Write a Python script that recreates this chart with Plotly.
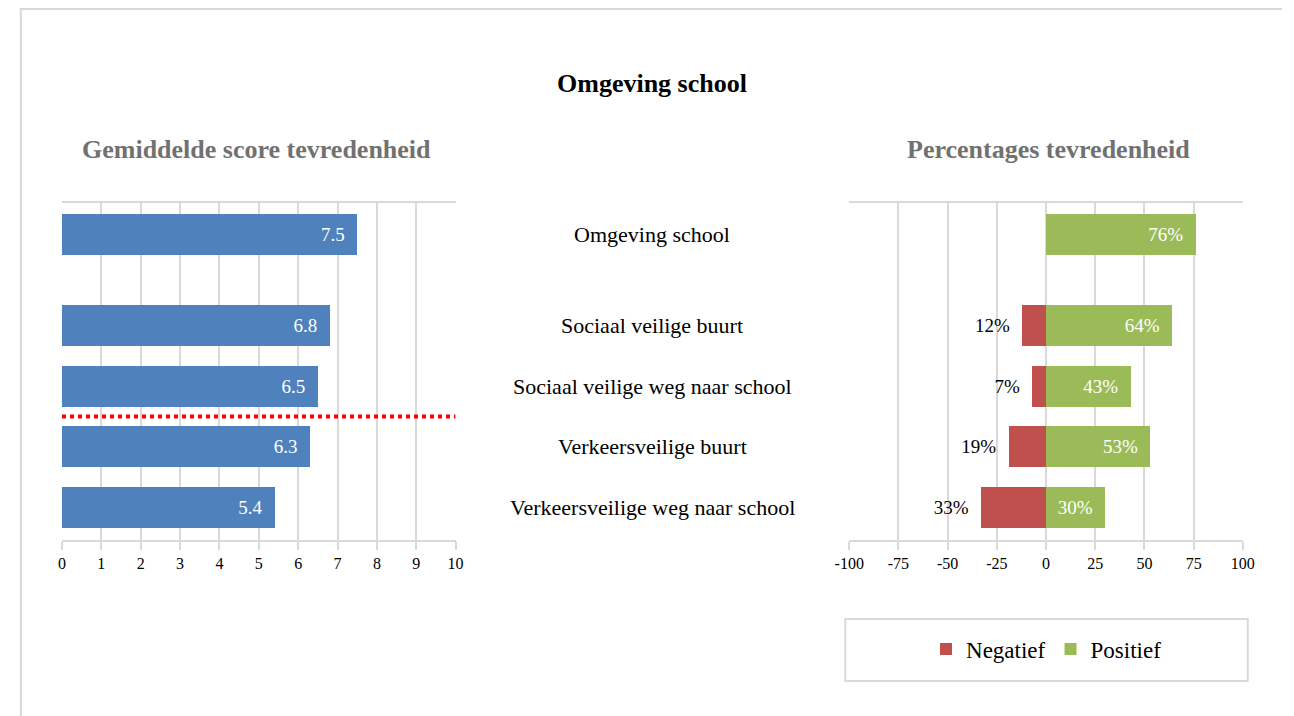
import plotly.graph_objects as go

# ---------------- data ----------------
categories = [
    "Omgeving school",
    "Sociaal veilige buurt",
    "Sociaal veilige weg naar school",
    "Verkeersveilige buurt",
    "Verkeersveilige weg naar school",
]
scores = [7.5, 6.8, 6.5, 6.3, 5.4]
negatief = [None, 12, 7, 19, 33]
positief = [76, 64, 43, 53, 30]
left_ticks = [0, 1, 2, 3, 4, 5, 6, 7, 8, 9, 10]
right_ticks = [-100, -75, -50, -25, 0, 25, 50, 75, 100]
right_tick_labels = ["-100", "-75", "-50", "-25", "0", "25", "50", "75", "100"]
title_text = "Omgeving school"
left_title = "Gemiddelde score tevredenheid"
right_title = "Percentages tevredenheid"
legend_names = ["Negatief", "Positief"]

# ---------------- layout / style ----------------
W, H = 1294, 716
FONT = "Liberation Serif"
BLUE, RED, GREEN = "#4F81BD", "#C0504D", "#9BBB59"
GRID = "#D9D9D9"
SUB = "#717171"
row_slots = [0, 1.5, 2.5, 3.5, 4.5]   # vertical slot of each category row
BAR_W = 0.676
PAD = "\u00a0\u00a0"

def px(x):
    return x / W

def py(y):
    return 1 - y / H

fig = go.Figure()

fig.add_trace(go.Bar(
    x=scores, y=row_slots, orientation="h", width=BAR_W,
    marker=dict(color=BLUE, line=dict(width=0)),
    text=[f"{v:.1f}{PAD}" for v in scores],
    textposition="inside", insidetextanchor="end",
    insidetextfont=dict(family=FONT, size=19, color="white"),
    constraintext="none",
    showlegend=False, hoverinfo="skip", xaxis="x", yaxis="y",
))

fig.add_trace(go.Bar(
    name=legend_names[0],
    x=[-v if v is not None else None for v in negatief], y=row_slots,
    orientation="h", width=BAR_W,
    marker=dict(color=RED, line=dict(width=0)),
    text=[f"{v}%{PAD}" if v is not None else "" for v in negatief],
    textposition="outside",
    outsidetextfont=dict(family=FONT, size=19, color="black"),
    constraintext="none", cliponaxis=False,
    hoverinfo="skip", xaxis="x2", yaxis="y2",
))

fig.add_trace(go.Bar(
    name=legend_names[1],
    x=positief, y=row_slots, orientation="h", width=BAR_W,
    marker=dict(color=GREEN, line=dict(width=0)),
    text=[f"{v}%{PAD}" for v in positief],
    textposition="inside", insidetextanchor="end",
    insidetextfont=dict(family=FONT, size=19, color="white"),
    constraintext="none",
    hoverinfo="skip", xaxis="x2", yaxis="y2",
))

y_dom = [py(540), py(203.3)]
y_rng = [5.035, -0.514]

common_x = dict(
    showgrid=True, gridcolor=GRID, gridwidth=2,
    showline=True, linecolor=GRID, linewidth=2, mirror=True,
    ticks="outside", ticklen=8, tickcolor=GRID, tickwidth=2,
    tickfont=dict(family=FONT, size=16, color="black"),
    zeroline=False, fixedrange=True,
)
common_y = dict(
    range=y_rng, domain=y_dom, visible=False, showgrid=False, zeroline=False,
    showticklabels=False, ticks="", showline=False, fixedrange=True,
)

fig.update_layout(
    width=W, height=H, autosize=False,
    margin=dict(l=0, r=0, t=0, b=0),
    paper_bgcolor="white", plot_bgcolor="white",
    font=dict(family=FONT, color="black"),
    barmode="relative", bargap=0, dragmode=False,
    xaxis=dict(domain=[px(48), px(450)], range=[0, 10], tickvals=left_ticks,
               anchor="y", **common_x),
    yaxis=dict(anchor="x", **common_y),
    xaxis2=dict(domain=[px(852), px(1254)], range=[-100, 100], tickvals=right_ticks,
                ticktext=right_tick_labels, anchor="y2", **common_x),
    yaxis2=dict(anchor="x2", **common_y),
    legend=dict(
        orientation="h", x=px(1053.5), y=py(649), xanchor="center", yanchor="middle",
        font=dict(family=FONT, size=23, color="black"),
        bgcolor="rgba(0,0,0,0)", borderwidth=0, traceorder="normal",
    ),
    showlegend=True,
)

annotations = [
    dict(text=f"<b>{title_text}</b>", x=px(651), y=py(83), xref="paper", yref="paper",
         xanchor="center", yanchor="middle", showarrow=False,
         font=dict(family=FONT, size=26, color="black")),
    dict(text=f"<b>{left_title}</b>", x=px(247), y=py(150), xref="paper", yref="paper",
         xanchor="center", yanchor="middle", showarrow=False,
         font=dict(family=FONT, size=26, color=SUB)),
    dict(text=f"<b>{right_title}</b>", x=px(1055.5), y=py(150), xref="paper", yref="paper",
         xanchor="center", yanchor="middle", showarrow=False,
         font=dict(family=FONT, size=26, color=SUB)),
]
for cat, slot in zip(categories, row_slots):
    annotations.append(dict(
        text=cat, x=px(651), y=slot, xref="paper", yref="y",
        xanchor="center", yanchor="middle", showarrow=False,
        font=dict(family=FONT, size=22, color="black")))
fig.update_layout(annotations=annotations)

shapes = [
    # outer chart border (top and left edges; the rest lies outside the picture)
    dict(type="line", xref="paper", yref="paper", x0=px(5), x1=1, y0=py(9), y1=py(9),
         line=dict(color=GRID, width=2), layer="below"),
    dict(type="line", xref="paper", yref="paper", x0=px(6), x1=px(6), y0=0, y1=py(8),
         line=dict(color=GRID, width=2), layer="below"),
    # legend box
    dict(type="rect", xref="paper", yref="paper", x0=px(848), x1=px(1259),
         y0=py(681), y1=py(619), line=dict(color=GRID, width=2),
         fillcolor="rgba(0,0,0,0)", layer="below"),
    # red dotted separator between the social and traffic rows
    dict(type="line", xref="x", yref="y", x0=left_ticks[0], x1=left_ticks[-1],
         y0=(row_slots[2] + row_slots[3]) / 2, y1=(row_slots[2] + row_slots[3]) / 2,
         line=dict(color="#FF0000", width=4, dash="dot"), layer="above"),
]
fig.update_layout(shapes=shapes)

post = (
    "document.documentElement.style.margin='0';"
    "document.documentElement.style.overflow='hidden';"
    "document.body.style.margin='0';"
    "document.body.style.overflow='hidden';"
)
fig.write_html("out.html", config={"staticPlot": True, "displayModeBar": False},
               post_script=post)
